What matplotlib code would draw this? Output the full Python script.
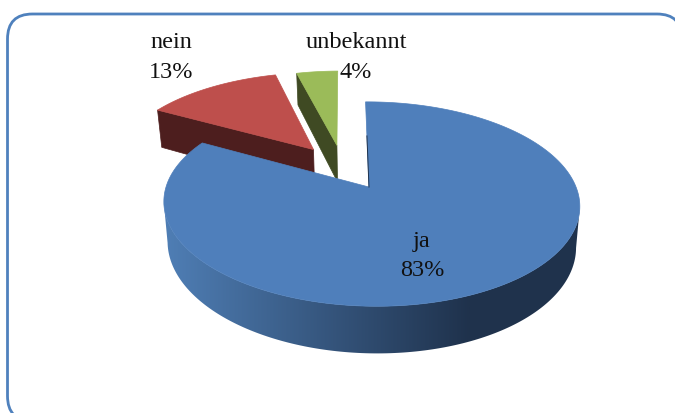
import numpy as np
import matplotlib
matplotlib.use("Agg")
import matplotlib.pyplot as plt
from matplotlib.patches import FancyBboxPatch, Polygon
from matplotlib.colors import LinearSegmentedColormap

labels = ["ja", "nein", "unbekannt"]
values = [83, 13, 4]
top_colors = ["#4F7FBB", "#BE4F4C", "#9BBB59"]
side_colors = ["#1F324C", "#4D1E1E", "#3F4A23"]

# projection of the tilted pie, in pixels
X0, Y0 = 345.0, 168.0
A, B = 198.0, 93.0
K = 0.161
M = 0.010
DEPTH = 38.0
NARROW = 0.018
XC = 371.0
explode = [0.23, 0.26, 0.255]
radius = [1.0, 1.025, 1.0]
shift = [0.0, -1.0, -2.0]
depth_scale = [1.0, 1.1, 1.0]


def project(u, v, z=0.0):
    w = 1 + K * v - M * u
    x = X0 + A * u / w
    return XC + (x - XC) * (1 - NARROW * z), Y0 - B * v / w + z * DEPTH / w


def slice_points(i, start, end, z=0.0):
    mid = (start + end) / 2
    cu, cv = explode[i] * np.sin(mid), explode[i] * np.cos(mid)
    t = np.linspace(start, end, 300)
    x, y = project(cu + radius[i] * np.sin(t), cv + radius[i] * np.cos(t), z)
    ax_, ay_ = project(cu, cv, z)
    return ax_ + shift[i], ay_, x + shift[i], y


fig = plt.figure(figsize=(6.75, 4.13), dpi=100)
ax = fig.add_axes([0, 0, 1, 1])
ax.set_xlim(0, 675)
ax.set_ylim(413, 0)
ax.axis("off")

ax.add_patch(FancyBboxPatch((7.5 + 25, 14 + 25), 682 - 7.5 - 50, 421 - 14 - 50,
                            boxstyle="round,pad=25,rounding_size=25",
                            fc="white", ec="#4F81BD", lw=2.0, zorder=0))

fractions = np.array(values) / sum(values)
edges = np.concatenate([[0], np.cumsum(fractions)]) * 2 * np.pi

wall_cmap = LinearSegmentedColormap.from_list("wall", ["#4F7EB5", side_colors[0]])

# back slices first, the big one goes on top of them
for i in [2, 1, 0]:
    start, end = edges[i], edges[i + 1]
    ax_, ay_, x, y = slice_points(i, start, end)
    ax2, ay2, x2, y2 = slice_points(i, start, end, depth_scale[i])

    if i > 0:
        # cut face on the left side of the wedge
        ax.add_patch(Polygon([(x[0], y[0]), (ax_, ay_), (ax2, ay2), (x2[0], y2[0])],
                             fc=side_colors[i], ec=side_colors[i], lw=0.5, zorder=2))
    else:
        # outer wall between the widest points of the rim, gradient clipped to it
        a, b = np.argmax(x), np.argmin(x)
        wall = Polygon(np.column_stack([np.r_[x[a:b], x2[a:b][::-1]],
                                        np.r_[y[a:b], y2[a:b][::-1]]]),
                       fc="none", ec="none")
        ax.add_patch(wall)
        ramp = np.linspace(0, 1, 256).reshape(1, -1)
        img = ax.imshow(ramp, cmap=wall_cmap, extent=(165, 470, 413, 0), aspect="auto",
                        interpolation="bilinear", zorder=3)
        full = ax.imshow(np.zeros((1, 1)), cmap=wall_cmap, vmin=0, vmax=1,
                         extent=(100, 165, 413, 0), aspect="auto", zorder=3)
        dark = ax.imshow(np.ones((1, 1)), cmap=wall_cmap, vmin=0, vmax=1,
                         extent=(470, 620, 413, 0), aspect="auto", zorder=3)
        for im in (img, full, dark):
            im.set_clip_path(wall)
        ax.set_xlim(0, 675)
        ax.set_ylim(413, 0)

    ax.add_patch(Polygon(np.column_stack([np.r_[ax_, x], np.r_[ay_, y]]),
                         fc=top_colors[i], ec=top_colors[i], lw=0.5,
                         zorder=4 if i == 0 else 2.5))

    if i == 0:
        # thin dark sliver of the cut face next to the apex
        ax.plot([ax_, ax_ + (x[0] - ax_) * 0.6], [ay_, ay_ + (y[0] - ay_) * 0.6],
                color=side_colors[0], lw=0.7, zorder=5)

text_font = "Liberation Serif"
label_pos = [(422, 241, 270), (171.5, 42, 73), (356, 42, 73)]
for lab, val, (tx, ty1, ty2) in zip(labels, values, label_pos):
    ax.text(tx, ty1, lab, family=text_font, fontsize=17.5, color="#111111",
            ha="center", va="center", zorder=6)
    ax.text(tx, ty2, f"{val}%", family=text_font, fontsize=17.5, color="#111111",
            ha="center", va="center", zorder=6)

fig.savefig("out.png", dpi=100)
